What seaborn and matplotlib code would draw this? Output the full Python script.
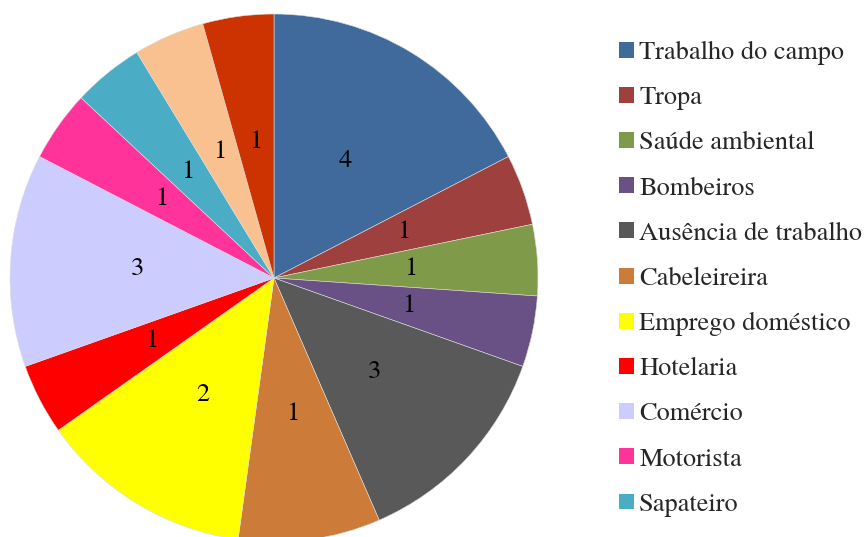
import matplotlib
matplotlib.use("Agg")
import matplotlib.pyplot as plt
import matplotlib.patches as mpatches
import seaborn as sns

categories = ["Trabalho do campo", "Tropa", "Saúde ambiental", "Bombeiros",
              "Ausência de trabalho", "Cabeleireira", "Emprego doméstico",
              "Hotelaria", "Comércio", "Motorista", "Sapateiro", "", ""]
slice_sizes = [4, 1, 1, 1, 3, 2, 3, 1, 3, 1, 1, 1, 1]
label_values = ["4", "1", "1", "1", "3", "1", "2", "1", "3", "1", "1", "1", "1"]
colors = ["#3F6A9B", "#9E413E", "#7F9A48", "#695185", "#595959", "#CC7B38",
          "#FFFF00", "#FF0000", "#CCCCFF", "#FF3399", "#4BACC6", "#F9C090", "#CC3300"]
legend_count = 11

sns.set_theme(style="white")
plt.rcParams['font.family'] = ['TeX Gyre Termes', 'FreeSerif', 'STIX Two Text', 'DejaVu Serif']
palette = sns.color_palette(colors)

W, H = 865, 537
fig = plt.figure(figsize=(W / 100, H / 100), dpi=100)
cx, cy, r = 274, 278, 264
ax = fig.add_axes([(cx - r) / W, (H - cy - r) / H, 2 * r / W, 2 * r / H])

wedges, texts = ax.pie(slice_sizes, colors=palette, startangle=90, counterclock=False,
                       labels=label_values, labeldistance=0.52, radius=1,
                       wedgeprops=dict(edgecolor="#dddddd", linewidth=0.4),
                       textprops=dict(fontsize=19, color="black", ha="center", va="center"))
ax.set_xlim(-1, 1)
ax.set_ylim(-1, 1)
ax.set_aspect("equal")
ax.axis("off")

handles = [mpatches.Patch(facecolor=palette[i], edgecolor="none") for i in range(legend_count)]
leg = fig.legend(handles, categories[:legend_count], loc="upper left",
                 bbox_to_anchor=(619 / W, 1 - 41 / H), frameon=False,
                 fontsize=19, handlelength=0.55, handleheight=0.55,
                 handletextpad=0.22, labelspacing=0.8, borderpad=0, borderaxespad=0)

fig.savefig("out.png", dpi=100)
